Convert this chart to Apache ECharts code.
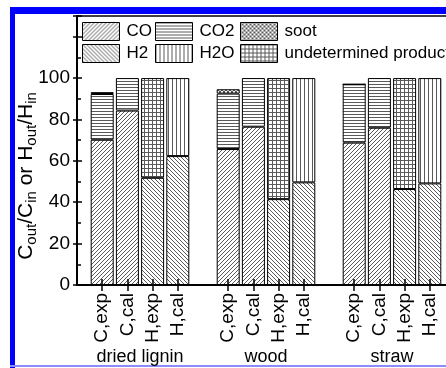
<!DOCTYPE html>
<html>
<head>
<meta charset="utf-8">
<script src="https://cdn.jsdelivr.net/npm/echarts@6/dist/echarts.min.js"></script>
<style>
  html, body { margin: 0; padding: 0; background: #fff; }
  #chart { width: 446px; height: 368px; }
</style>
</head>
<body>
<div id="chart"></div>
<script>
// Feedstocks and the four balance bars drawn for each of them
const groups = ['dried lignin', 'wood', 'straw'];
const barNames = ['C,exp', 'C,cal', 'H,exp', 'H,cal'];
const yTickLabels = [0, 20, 40, 60, 80, 100];

// Carbon balance, experiment (% of C in)
const coExp = [70.2, 65.7, 68.8];
const co2Exp = [22.1, 26.8, 28.2];
const sootExp = [0.9, 2.1, 0];
// Carbon balance, calculation
const coCal = [84.3, 76.5, 76.0];
const co2Cal = [15.7, 23.5, 24.0];
// Hydrogen balance, experiment (% of H in)
const h2Exp = [51.8, 41.5, 46.4];
const undeterminedExp = [48.2, 58.5, 53.6];
// Hydrogen balance, calculation
const h2Cal = [62.3, 49.6, 49.1];
const h2oCal = [37.7, 50.4, 50.9];

// Category slots: an empty slot before, between and after the groups
const categories = [''];
groups.forEach(() => { categories.push(...barNames, ''); });
const slot = (g, b) => 1 + g * (barNames.length + 1) + b;

function slotData(values, barIndex) {
  const out = categories.map(() => null);
  values.forEach((v, g) => { out[slot(g, barIndex)] = v; });
  return out;
}

// Hatch fills
const INK = '#5a5a5a';
function hatch(w, h, draw) {
  const c = document.createElement('canvas');
  c.width = w; c.height = h;
  const g = c.getContext('2d');
  g.fillStyle = '#fff';
  g.fillRect(0, 0, w, h);
  g.strokeStyle = INK;
  g.fillStyle = INK;
  g.lineWidth = 1;
  draw(g, w, h);
  return { image: c, repeat: 'repeat' };
}
function diag(g, s, rising) {
  g.beginPath();
  for (let k = -1; k <= 1; k++) {
    if (rising) { g.moveTo(k * s, s); g.lineTo(k * s + s, 0); }
    else { g.moveTo(k * s, 0); g.lineTo(k * s + s, s); }
  }
  g.stroke();
}
const fills = {
  CO: hatch(4, 4, (g) => diag(g, 4, true)),
  H2: hatch(4, 4, (g) => diag(g, 4, false)),
  CO2: hatch(1, 3, (g) => g.fillRect(0, 0, 1, 1)),
  H2O: hatch(4, 1, (g) => g.fillRect(0, 0, 1, 1)),
  undetermined: hatch(4, 4, (g) => { g.fillRect(0, 0, 4, 1); g.fillRect(0, 0, 1, 4); }),
  soot: hatch(4, 4, (g) => { diag(g, 4, true); diag(g, 4, false); })
};

const FONT = 'Liberation Sans, Arial, sans-serif';

function barSeries(name, fill, data) {
  return {
    name, type: 'bar', stack: 'balance', barWidth: 23,
    xAxisIndex: 0, yAxisIndex: 0,
    itemStyle: { color: fill, borderColor: '#000', borderWidth: 1 },
    emphasis: { disabled: true },
    data
  };
}

const series = [
  barSeries('CO', fills.CO, (() => {
    const d = slotData(coExp, 0);
    coCal.forEach((v, g) => { d[slot(g, 1)] = v; });
    return d;
  })()),
  barSeries('H2', fills.H2, (() => {
    const d = slotData(h2Exp, 2);
    h2Cal.forEach((v, g) => { d[slot(g, 3)] = v; });
    return d;
  })()),
  barSeries('CO2', fills.CO2, (() => {
    const d = slotData(co2Exp, 0);
    co2Cal.forEach((v, g) => { d[slot(g, 1)] = v; });
    return d;
  })()),
  barSeries('H2O', fills.H2O, slotData(h2oCal, 3)),
  barSeries('undetermined products', fills.undetermined, slotData(undeterminedExp, 2)),
  barSeries('soot', fills.soot, slotData(sootExp, 0))
];

function legendColumn(left, names) {
  return {
    data: names, left, top: 22, orient: 'vertical', padding: 0,
    itemWidth: 37, itemHeight: 18, itemGap: 3, icon: 'rect',
    selectedMode: false,
    itemStyle: { borderColor: '#000', borderWidth: 1 },
    textStyle: { fontFamily: FONT, fontSize: 17, color: '#000', lineHeight: 18, padding: [0, 0, 0, 2] }
  };
}

const axisBlack = { color: '#000', width: 2 };

const option = {
  animation: false,
  backgroundColor: '#fff',
  grid: {
    left: 77, top: 16, width: 378, height: 269,
    outerBoundsMode: 'none',
    show: true, borderColor: '#000', borderWidth: 1.5, backgroundColor: 'transparent'
  },
  legend: [
    legendColumn(82, ['CO', 'H2']),
    legendColumn(155, ['CO2', 'H2O']),
    legendColumn(240, ['soot', 'undetermined products'])
  ],
  xAxis: [
    {
      type: 'category', data: categories, boundaryGap: false, position: 'bottom', z: 5,
      axisLine: { lineStyle: axisBlack },
      axisTick: { inside: true, length: 6, lineStyle: { color: '#000', width: 1.5 },
        interval: (i, v) => v !== '' },
      axisLabel: { interval: 0, rotate: 90, margin: 8, color: '#000',
        fontFamily: FONT, fontSize: 19 },
      splitLine: { show: false }
    },
    {
      type: 'category', data: categories, boundaryGap: false, position: 'bottom', z: 5,
      axisLine: { show: false },
      axisTick: { inside: false, length: 6, lineStyle: { color: '#000', width: 1.5 },
        interval: (i, v) => v !== '' },
      axisLabel: { show: false },
      splitLine: { show: false }
    },
    {
      type: 'value', min: 0, max: categories.length - 1, interval: 2.5, position: 'bottom',
      axisLine: { show: false }, axisTick: { show: false }, splitLine: { show: false },
      axisLabel: {
        margin: 63, color: '#000', fontFamily: FONT, fontSize: 18,
        formatter: (v) => {
          const g = (v - 2.5) / (barNames.length + 1);
          return Number.isInteger(g) && groups[g] ? groups[g] : '';
        }
      }
    }
  ],
  yAxis: [
    {
      type: 'value', min: 0, max: 130, interval: 20, position: 'left', z: 5,
      axisLine: { show: true, lineStyle: axisBlack },
      axisTick: { show: true, inside: true, length: 5, lineStyle: { color: '#000', width: 1.5 } },
      minorTick: { show: true, splitNumber: 2, length: 4, lineStyle: { color: '#000', width: 1.5 } },
      splitLine: { show: false },
      axisLabel: {
        margin: 7, color: '#000', fontFamily: FONT, fontSize: 19,
        formatter: (v) => (yTickLabels.includes(v) ? String(v) : '')
      }
    },
    {
      type: 'value', min: 0, max: 130, interval: 20, position: 'left', z: 5,
      axisLine: { show: false },
      axisTick: { show: true, inside: false, length: 4, lineStyle: { color: '#000', width: 1.5 } },
      axisLabel: { show: false },
      splitLine: { show: false }
    }
  ],
  graphic: [
    { type: 'rect', shape: { x: 10, y: 7, width: 436, height: 7 }, style: { fill: '#0000ff' }, silent: true },
    { type: 'rect', shape: { x: 10, y: 7, width: 5, height: 361 }, style: { fill: '#0000ff' }, silent: true },
    { type: 'rect', shape: { x: 10, y: 365, width: 436, height: 2 }, style: { fill: '#8c8cff' }, silent: true },
    {
      type: 'text', x: 26, y: 176, rotation: Math.PI / 2, silent: true,
      style: {
        text: 'C{s|out}/C{s|in} or H{s|out}/H{s|in}',
        fontFamily: FONT, fontSize: 21, lineHeight: 26, fill: '#000',
        align: 'center', verticalAlign: 'middle',
        rich: { s: { fontFamily: FONT, fontSize: 15, lineHeight: 15, verticalAlign: 'bottom', fill: '#000' } }
      }
    }
  ],
  series
};

const chart = echarts.init(document.getElementById('chart'), null, { renderer: 'canvas' });
chart.setOption(option);
</script>
</body>
</html>
